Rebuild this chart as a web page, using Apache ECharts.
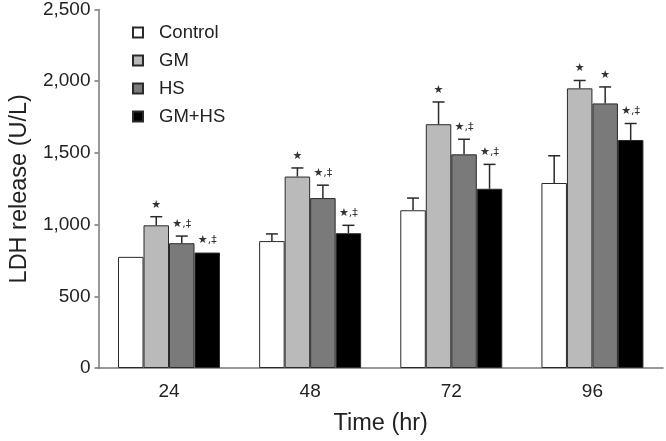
<!DOCTYPE html>
<html>
<head>
<meta charset="utf-8">
<script src="https://cdn.jsdelivr.net/npm/echarts@6/dist/echarts.min.js"></script>
<style>
  html, body { margin: 0; padding: 0; background: #fff; }
  #chart { width: 666px; height: 441px; }
</style>
</head>
<body>
<div id="chart"></div>
<script>
// time points (hr)
var categories = ['24', '48', '72', '96']
var groupNames = ['Control', 'GM', 'HS', 'GM+HS']

// LDH release (U/L), mean and upper error (SD)
var controlMean = [775, 885, 1100, 1290]
var controlErr = [0, 50, 85, 190]
var gmMean = [995, 1335, 1700, 1950]
var gmErr = [60, 60, 155, 55]
var hsMean = [870, 1185, 1490, 1845]
var hsErr = [50, 90, 105, 115]
var gmhsMean = [805, 940, 1250, 1590]
var gmhsErr = [0, 55, 170, 115]

// significance marks above the bars
var controlMarks = ['', '', '', '']
var gmMarks = ['★', '★', '★', '★']
var hsMarks = ['★,‡', '★,‡', '★,‡', '★']
var gmhsMarks = ['★,‡', '★,‡', '★,‡', '★,‡']

var yTicks = [0, 500, 1000, 1500, 2000, 2500]

var means = [controlMean, gmMean, hsMean, gmhsMean]
var errs = [controlErr, gmErr, hsErr, gmhsErr]
var marks = [controlMarks, gmMarks, hsMarks, gmhsMarks]
var fills = ['#ffffff', '#bababa', '#7a7a7a', '#000000']

var BAR_W = 25.5
var FONT = '"Liberation Sans", Arial, sans-serif'

var chart = echarts.init(document.getElementById('chart'))

var series = groupNames.map(function (name, i) {
  return {
    name: name,
    type: 'bar',
    data: means[i],
    barWidth: BAR_W,
    barGap: '0%',
    itemStyle: {
      color: fills[i],
      borderColor: '#2a2a2a',
      borderWidth: 1
    },
    emphasis: { disabled: true },
    z: 2
  }
})

// error bars + marks, one row per (time, group)
var errData = []
categories.forEach(function (c, ci) {
  for (var g = 0; g < 4; g++) {
    errData.push([ci, means[g][ci], errs[g][ci], g, marks[g][ci]])
  }
})

series.push({
  type: 'custom',
  data: errData,
  z: 5,
  silent: true,
  encode: { x: 0, y: 1 },
  renderItem: function (params, api) {
    var ci = api.value(0)
    var mean = api.value(1)
    var err = api.value(2)
    var g = api.value(3)
    var mark = errData[params.dataIndex][4]
    var base = api.coord([ci, mean])
    var x = base[0] + (g - 1.5) * BAR_W
    var top = api.coord([ci, mean + err])[1]
    var children = []
    if (err > 0) {
      children.push({
        type: 'line',
        shape: { x1: x, y1: base[1], x2: x, y2: top },
        style: { stroke: '#2a2a2a', lineWidth: 1.5 }
      })
      children.push({
        type: 'line',
        shape: { x1: x - 6, y1: top, x2: x + 6, y2: top },
        style: { stroke: '#2a2a2a', lineWidth: 1.5 }
      })
    }
    if (mark) {
      children.push({
        type: 'text',
        style: {
          text: mark,
          x: x,
          y: top - 12,
          align: 'center',
          verticalAlign: 'middle',
          fill: '#333',
          font: '11px "DejaVu Sans", sans-serif'
        }
      })
    }
    return { type: 'group', children: children }
  }
})

chart.setOption({
  animation: false,
  backgroundColor: '#fff',
  textStyle: { fontFamily: FONT },
  grid: { left: 87, right: 3, top: 8, bottom: 68 },
  legend: {
    data: groupNames,
    orient: 'vertical',
    left: 127,
    top: 18,
    icon: 'rect',
    itemWidth: 10,
    itemHeight: 10,
    itemGap: 9,
    textStyle: {
      fontFamily: FONT,
      fontSize: 18.5,
      color: '#222',
      padding: [0, 0, 0, 11]
    }
  },
  xAxis: {
    type: 'category',
    data: categories,
    name: 'Time (hr)',
    nameLocation: 'middle',
    nameGap: 44,
    nameTextStyle: { fontSize: 23.5, color: '#222', fontFamily: FONT },
    axisLine: { lineStyle: { color: '#777', width: 1.5 } },
    axisTick: { inside: true, length: 5, lineStyle: { color: '#777', width: 1.5 } },
    axisLabel: { fontSize: 19, color: '#222', margin: 14, fontFamily: FONT }
  },
  yAxis: {
    type: 'value',
    min: yTicks[0],
    max: yTicks[yTicks.length - 1],
    interval: 500,
    name: 'LDH release (U/L)',
    nameLocation: 'middle',
    nameGap: 62,
    nameTextStyle: { fontSize: 23.5, color: '#222', fontFamily: FONT },
    axisLine: { show: true, lineStyle: { color: '#777', width: 1.5 } },
    axisTick: { show: true, length: 4, lineStyle: { color: '#777', width: 1.5 } },
    splitLine: { show: false },
    axisLabel: {
      fontSize: 19,
      color: '#222',
      margin: 8,
      fontFamily: FONT,
      formatter: function (v) { return v.toLocaleString('en-US') }
    }
  },
  series: series
})
</script>
</body>
</html>
